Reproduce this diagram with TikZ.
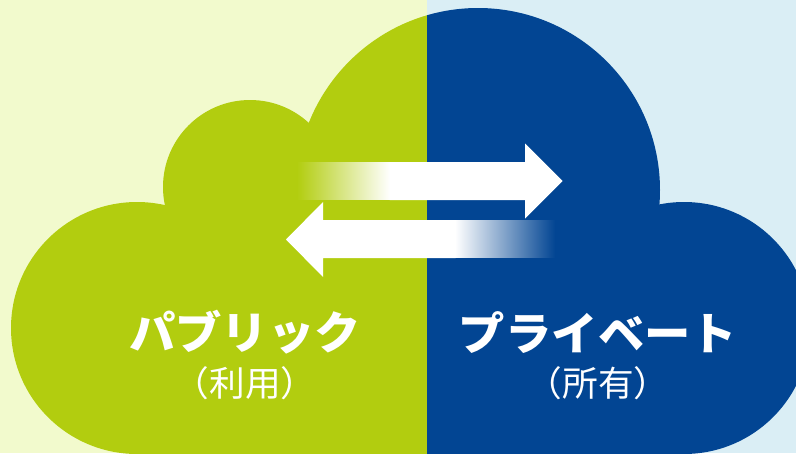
\documentclass[tikz,border=0pt]{standalone}
\usepackage{fontspec}
\newfontfamily\jp{Noto Sans CJK JP}
\definecolor{pubbg}{HTML}{F2FACD}
\definecolor{pribg}{HTML}{DAEEF5}
\definecolor{pubfg}{HTML}{B2CD0F}
\definecolor{prifg}{HTML}{024593}
\tikzset{
  maintext/.style={text=white,inner sep=0pt,font=\jp\bfseries\fontsize{45}{49}\selectfont,xscale=1.03},
  subtext/.style={text=white,inner sep=0pt,font=\jp\fontsize{35}{39}\selectfont,xscale=1.02},
  cloudpart/.pic={
    \fill (137,328) circle[radius=126];
    \fill (250,187) circle[radius=87];
    \fill (478,190) circle[radius=182];
    \fill (684,328) circle[radius=126];
    \fill (136,250) rectangle (684,460);
  }
}
\begin{document}
\begin{tikzpicture}[x=1pt,y=-1pt]
\useasboundingbox (0,0) rectangle (796,453);
\clip (0,0) rectangle (796,453);
\fill[pubbg] (0,0) rectangle (427,453);
\fill[pribg] (427,0) rectangle (796,453);
\begin{scope}
  \clip (0,0) rectangle (427,453);
  \pic[fill=pubfg] {cloudpart};
\end{scope}
\begin{scope}
  \clip (427,0) rectangle (796,453);
  \pic[fill=prifg] {cloudpart};
\end{scope}
% right arrow
\shade[left color=pubfg,right color=white] (297,162.3) rectangle (390,199.6);
\fill[white] (389.5,162) -- (525,162) -- (525,143.5) -- (562.5,181) -- (525,218.5) -- (525,200) -- (389.5,200) -- cycle;
% left arrow
\shade[left color=white,right color=prifg] (455,220.3) rectangle (555,257.6);
\fill[white] (455.5,220) -- (323,220) -- (323,202) -- (286,239.5) -- (323,277) -- (323,258) -- (455.5,258) -- cycle;
% labels
\node[maintext] (public) at (245,332.5) {パブリック};
\node[subtext] (publicsub) at (245,383) {（利用）};
\node[maintext] (private) at (598,332.5) {プライベート};
\node[subtext] (privatesub) at (598,383) {（所有）};
\end{tikzpicture}
\end{document}
